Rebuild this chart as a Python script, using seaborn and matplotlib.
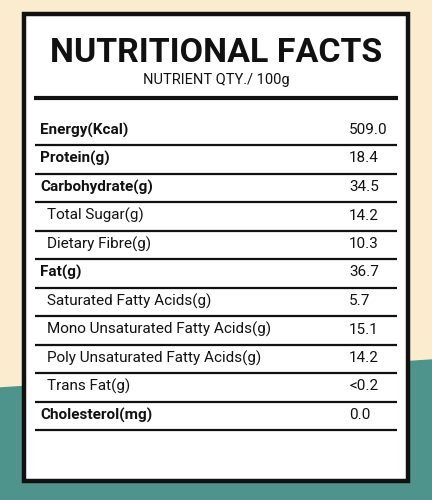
import matplotlib
matplotlib.use("Agg")
import matplotlib.pyplot as plt
import seaborn as sns
import numpy as np

TITLE = "NUTRITIONAL FACTS"
SUBTITLE = "NUTRIENT QTY./ 100g"
NUTRIENTS = ["Energy(Kcal)", "Protein(g)", "Carbohydrate(g)", "Total Sugar(g)",
             "Dietary Fibre(g)", "Fat(g)", "Saturated Fatty Acids(g)",
             "Mono Unsaturated Fatty Acids(g)", "Poly Unsaturated Fatty Acids(g)",
             "Trans Fat(g)", "Cholesterol(mg)"]
AMOUNTS = ["509.0", "18.4", "34.5", "14.2", "10.3", "36.7", "5.7", "15.1", "14.2", "<0.2", "0.0"]
IS_MAIN = [True, True, True, False, False, True, False, False, False, False, True]

CREAM = "#FBEBCF"
TEAL = "#4F938D"

sns.set_theme(style="white")
plt.rcParams['font.family'] = ['Roboto', 'DejaVu Sans']

fig = plt.figure(figsize=(4.32, 5.0), dpi=100)
ax = fig.add_axes([0, 0, 1, 1])
ax.set_xlim(0, 432)
ax.set_ylim(500, 0)
ax.axis("off")

# background: cream top, teal slanted bottom
ax.fill_between([0, 432], [0, 0], [500, 500], color=CREAM, zorder=0)
ax.fill_between([0, 432], [388, 360], [500, 500], color=TEAL, zorder=1)

# the white card
ax.add_patch(plt.Rectangle((24, 14), 384, 467, facecolor="white",
                           edgecolor="#111111", lw=3.2, zorder=2))

ax.text(216, 53, TITLE, ha="center", va="center", fontsize=24.5,
        fontweight="bold", color="#111111", zorder=3)
ax.text(216, 80, SUBTITLE, ha="center", va="center", fontsize=10.5,
        color="#111111", zorder=3)
ax.plot([34, 398], [98, 98], color="#111111", lw=3, zorder=3, solid_capstyle="butt")

pitch = 28.5
first = 130
for i, (name, amt, main) in enumerate(zip(NUTRIENTS, AMOUNTS, IS_MAIN)):
    y = first + i * pitch
    ax.text(40 if main else 47, y, name, ha="left", va="center", fontsize=11,
            fontweight="bold" if main else "normal", color="#111111", zorder=3)
    ax.text(349, y, amt, ha="left", va="center", fontsize=11,
            color="#111111", zorder=3)
    ly = y + 15
    ax.plot([35, 397], [ly, ly], color="#111111", lw=1.6, zorder=3, solid_capstyle="butt")

fig.savefig("out.png", dpi=100)
